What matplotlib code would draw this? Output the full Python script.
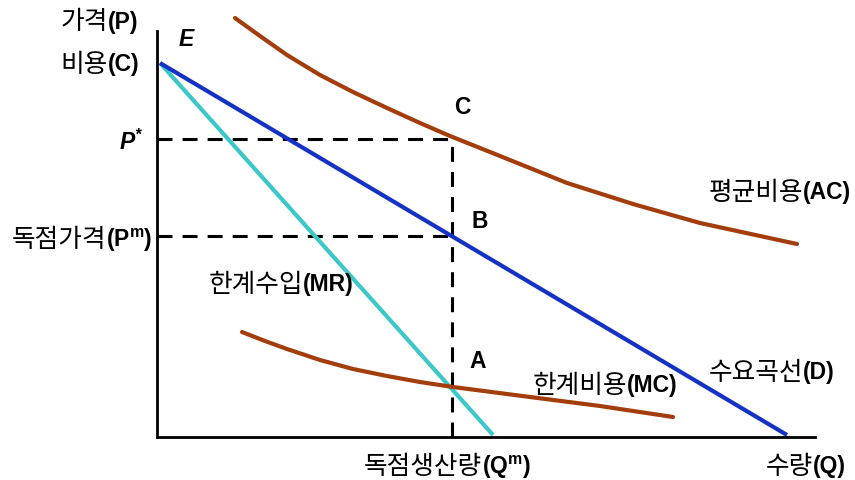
import matplotlib.pyplot as plt

# curves (quantity, price)
demand_q = [3, 630]
demand_p = [374, 2]
mr_q = [3, 336]
mr_p = [374, 2]
ac_q = [78, 103, 130, 163, 196, 230, 263, 293, 343, 410, 476, 543, 640]
ac_p = [419, 401, 382, 362, 345, 329, 314, 301, 281, 254, 233, 214, 193]
mc_q = [85, 108, 130, 163, 196, 230, 263, 296, 373, 443, 516]
mc_p = [105, 96, 88, 77, 68, 61, 55, 50, 40, 31, 20]
q_m = 295
p_star = 298
p_m = 201

BLUE = "#1433c4"
CYAN = "#3cc8c8"
BROWN = "#a33d0c"
KR = ["Noto Sans CJK KR", "DejaVu Sans"]
LAT = ["Liberation Sans", "DejaVu Sans"]
FS_KR = 18.5
FS = 16.5

fig = plt.figure(figsize=(8.55, 4.81), dpi=100)
ax = fig.add_axes([157 / 855, 43 / 481, (815 - 157) / 855, (438 - 32) / 481])
ax.set_xlim(0, 658)
ax.set_ylim(0, 406)
for s in ["top", "right"]:
    ax.spines[s].set_visible(False)
for s in ["left", "bottom"]:
    ax.spines[s].set_linewidth(2)
ax.set_xticks([])
ax.set_yticks([])

dash = dict(color="black", lw=2.2, dashes=(4.9, 3.3), solid_capstyle="butt")
ax.plot([0, q_m], [p_star, p_star], **dash)
ax.plot([0, q_m], [p_m, p_m], **dash)
ax.plot([q_m, q_m], [0, p_star], **dash)

ax.plot(mr_q, mr_p, color=CYAN, lw=3, solid_capstyle="butt")
ax.plot(demand_q, demand_p, color=BLUE, lw=3, solid_capstyle="butt")
ax.plot(ac_q, ac_p, color=BROWN, lw=3, solid_capstyle="round",
        solid_joinstyle="round", clip_on=False)
ax.plot(mc_q, mc_p, color=BROWN, lw=3, solid_capstyle="round",
        solid_joinstyle="round")


def label(x, y, kr, lat):
    ax.text(x, y, kr, ha="right", va="center", fontsize=FS_KR, family=KR, clip_on=False)
    ax.text(x, y, lat, ha="left", va="center", fontsize=FS, family=LAT,
            fontweight="bold", clip_on=False)


label(-49, 416, "가격", "(P)")
label(-49, 373, "비용", "(C)")
label(-51, 198, "독점가격", "(P$^{\\mathregular{m}}$)")
label(146, 153, "한계수입", "(MR)")
label(646, 245, "평균비용", "(AC)")
label(646, 65, "수요곡선", "(D)")
label(470, 52, "한계비용", "(MC)")
label(325, -29, "독점생산량", "(Q$^{\\mathregular{m}}$)")
label(656, -29, "수량", "(Q)")

ax.text(-14, 296, "P$^{\\mathregular{*}}$", ha="right", va="center", fontsize=FS,
        family=LAT, fontweight="bold", fontstyle="italic", clip_on=False)
ax.text(29, 398, "E", ha="center", va="center", fontsize=FS, family=LAT,
        fontweight="bold", fontstyle="italic", clip_on=False)
for txt, x, y in [("C", 305, 330), ("B", 323, 216), ("A", 321, 76)]:
    ax.text(x, y, txt, ha="center", va="center", fontsize=FS, family=LAT,
            fontweight="bold", clip_on=False)

fig.savefig("out.png", dpi=100)
